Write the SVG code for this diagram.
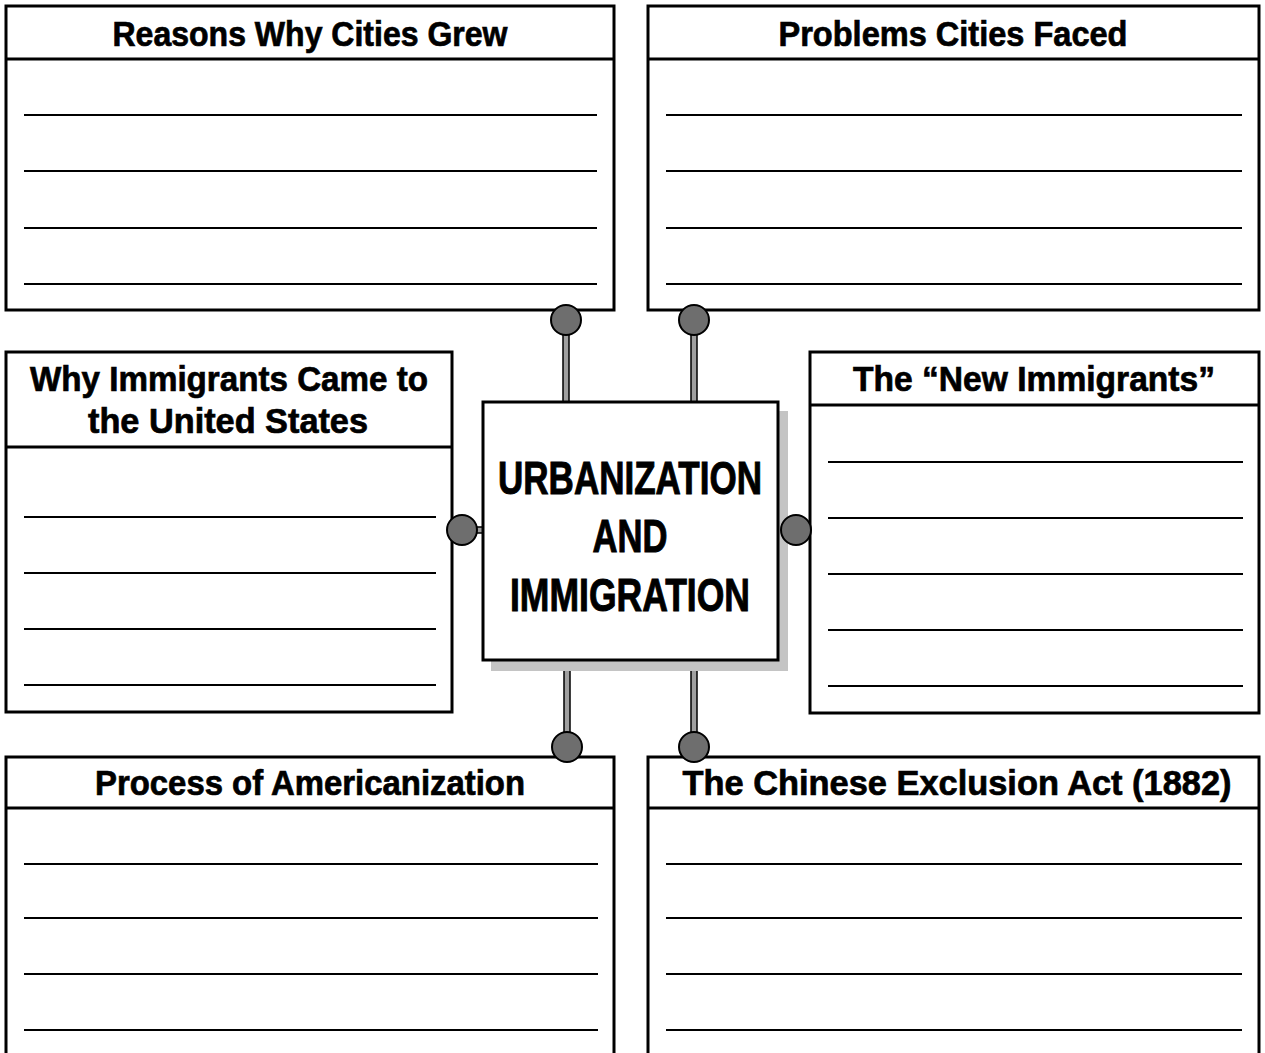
<svg xmlns="http://www.w3.org/2000/svg" width="1265" height="1053" viewBox="0 0 1265 1053">
<style>
.box{fill:#fff;stroke:#000;stroke-width:3}
.div{stroke:#000;stroke-width:3}
.ln{stroke:#000;stroke-width:2}
.hd{font-family:"Liberation Sans",Arial,sans-serif;font-weight:bold;font-size:35px;fill:#000;stroke:#000;stroke-width:0.7;text-anchor:middle}
.ct{font-family:"Liberation Sans",Arial,sans-serif;font-weight:bold;font-size:47px;fill:#000;stroke:#000;stroke-width:1;text-anchor:middle}
.rod{fill:#a0a0a0;stroke:#000;stroke-width:1.5}
.knob{fill:#6e6e6e;stroke:#000;stroke-width:2}
</style>
<rect width="1265" height="1053" fill="#fff"/>

<g id="connectors">
<rect class="rod" x="563" y="322" width="6" height="81"/>
<rect class="rod" x="691" y="322" width="6" height="81"/>
<rect class="rod" x="474" y="527" width="10" height="6"/>
<rect class="rod" x="778" y="527" width="8" height="6"/>
<rect class="rod" x="564" y="659" width="6" height="88"/>
<rect class="rod" x="691" y="659" width="6" height="88"/>
</g>

<g id="reasons">
<rect class="box" x="6" y="6" width="608" height="304"/>
<line class="div" x1="6" y1="59" x2="614" y2="59"/>
<text class="hd" x="310" y="46" textLength="395" lengthAdjust="spacingAndGlyphs">Reasons Why Cities Grew</text>
<line class="ln" x1="24" y1="115" x2="597" y2="115"/>
<line class="ln" x1="24" y1="171" x2="597" y2="171"/>
<line class="ln" x1="24" y1="228" x2="597" y2="228"/>
<line class="ln" x1="24" y1="284" x2="597" y2="284"/>
</g>

<g id="problems">
<rect class="box" x="648" y="6" width="611" height="304"/>
<line class="div" x1="648" y1="59" x2="1259" y2="59"/>
<text class="hd" x="953" y="46" textLength="349" lengthAdjust="spacingAndGlyphs">Problems Cities Faced</text>
<line class="ln" x1="666" y1="115" x2="1242" y2="115"/>
<line class="ln" x1="666" y1="171" x2="1242" y2="171"/>
<line class="ln" x1="666" y1="228" x2="1242" y2="228"/>
<line class="ln" x1="666" y1="284" x2="1242" y2="284"/>
</g>

<g id="why-immigrants">
<rect class="box" x="6" y="352" width="446" height="360"/>
<line class="div" x1="6" y1="447" x2="452" y2="447"/>
<text class="hd" x="229" y="391" textLength="398" lengthAdjust="spacingAndGlyphs">Why Immigrants Came to</text>
<text class="hd" x="228" y="433" textLength="280" lengthAdjust="spacingAndGlyphs">the United States</text>
<line class="ln" x1="24" y1="517" x2="436" y2="517"/>
<line class="ln" x1="24" y1="573" x2="436" y2="573"/>
<line class="ln" x1="24" y1="629" x2="436" y2="629"/>
<line class="ln" x1="24" y1="685" x2="436" y2="685"/>
</g>

<g id="center">
<rect x="491" y="411" width="297" height="260" fill="#c4c4c4"/>
<rect class="box" x="483" y="402" width="295" height="258"/>
<text class="ct" x="630" y="494" textLength="264" lengthAdjust="spacingAndGlyphs">URBANIZATION</text>
<text class="ct" x="630" y="552" textLength="75" lengthAdjust="spacingAndGlyphs">AND</text>
<text class="ct" x="630" y="611" textLength="240" lengthAdjust="spacingAndGlyphs">IMMIGRATION</text>
</g>

<g id="new-immigrants">
<rect class="box" x="810" y="352" width="449" height="361"/>
<line class="div" x1="810" y1="405" x2="1259" y2="405"/>
<text class="hd" x="1034" y="391" textLength="362" lengthAdjust="spacingAndGlyphs">The “New Immigrants”</text>
<line class="ln" x1="828" y1="462" x2="1243" y2="462"/>
<line class="ln" x1="828" y1="518" x2="1243" y2="518"/>
<line class="ln" x1="828" y1="574" x2="1243" y2="574"/>
<line class="ln" x1="828" y1="630" x2="1243" y2="630"/>
<line class="ln" x1="828" y1="686" x2="1243" y2="686"/>
</g>

<g id="americanization">
<rect class="box" x="6" y="757" width="608" height="310"/>
<line class="div" x1="6" y1="808" x2="614" y2="808"/>
<text class="hd" x="310" y="795" textLength="430" lengthAdjust="spacingAndGlyphs">Process of Americanization</text>
<line class="ln" x1="24" y1="864" x2="598" y2="864"/>
<line class="ln" x1="24" y1="918" x2="598" y2="918"/>
<line class="ln" x1="24" y1="974" x2="598" y2="974"/>
<line class="ln" x1="24" y1="1030" x2="598" y2="1030"/>
</g>

<g id="exclusion-act">
<rect class="box" x="648" y="757" width="611" height="310"/>
<line class="div" x1="648" y1="808" x2="1259" y2="808"/>
<text class="hd" x="957" y="795" textLength="549" lengthAdjust="spacingAndGlyphs">The Chinese Exclusion Act (1882)</text>
<line class="ln" x1="666" y1="864" x2="1242" y2="864"/>
<line class="ln" x1="666" y1="918" x2="1242" y2="918"/>
<line class="ln" x1="666" y1="974" x2="1242" y2="974"/>
<line class="ln" x1="666" y1="1030" x2="1242" y2="1030"/>
</g>

<g id="knobs">
<circle class="knob" cx="566" cy="320" r="15"/>
<circle class="knob" cx="694" cy="320" r="15"/>
<circle class="knob" cx="462" cy="530" r="15"/>
<circle class="knob" cx="796" cy="530" r="15"/>
<circle class="knob" cx="567" cy="747" r="15"/>
<circle class="knob" cx="694" cy="747" r="15"/>
</g>
</svg>
